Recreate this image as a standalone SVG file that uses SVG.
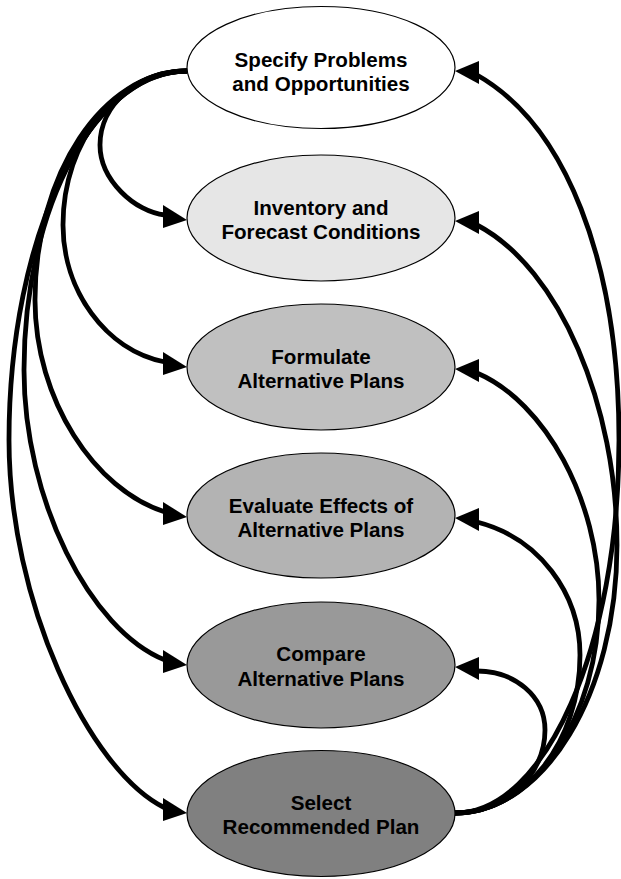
<svg xmlns="http://www.w3.org/2000/svg" width="621" height="879" viewBox="0 0 621 879">
<style>
.conn path{fill:none;stroke:#000;stroke-width:4.8}
.l{marker-end:url(#arrL)}
.r{marker-end:url(#arrR)}
.node ellipse{stroke:#000;stroke-width:1.2}
.node text{font-family:"Liberation Sans",Arial,sans-serif;font-weight:bold;font-size:20.6px;text-anchor:middle;fill:#000}
</style>
<defs>
<marker id="arrL" markerUnits="userSpaceOnUse" orient="0" refX="0" refY="0" markerWidth="30" markerHeight="30" overflow="visible">
<path d="M-2,-10 L22,5 L-2,13 Z" fill="#000"/>
</marker>
<marker id="arrR" markerUnits="userSpaceOnUse" orient="0" refX="0" refY="0" markerWidth="30" markerHeight="30" overflow="visible">
<path d="M2,-14 L-22,-4 L2,9 Z" fill="#000"/>
</marker>
</defs>
<rect width="621" height="879" fill="#fff"/>
<g id="connectors" class="conn">
<path class="l" d="M187,71 C139,71 100,104 100,145 C100,180 135,212 165,215"/>
<path class="l" d="M187,71 C118.5,71 63,140 63,225 C63,290 105,350 165,362"/>
<path class="l" d="M187,71 C103,71 35,173.5 35,300 C35,400 95,490 165,512"/>
<path class="l" d="M187,71 C97.5,71 24,205 24,370 C24,500 90,630 165,660"/>
<path class="l" d="M187,71 C88,71 9,236 9,440 C9,600 88,770 165,808"/>
<path class="r" d="M455,813 C545.6,813 619,646 619,440 C619,260 565,125 477,75"/>
<path class="r" d="M455,813 C544.5,813 617,693 617,545 C617,406 560,268.5 477,225"/>
<path class="r" d="M455,813 C534.5,813 599,717.6 599,600 C599,500.7 545,402 477,373"/>
<path class="r" d="M455,813 C524,813 580,742.3 580,655 C580,593 539,538 477,522"/>
<path class="r" d="M455,813 C504.7,813 545,775.8 545,730 C545,696 514.6,671 477,671"/>
</g>
<g id="node-specify" class="node">
<ellipse cx="321" cy="67.5" rx="134" ry="61" fill="#ffffff"/>
<text x="321" y="67">Specify Problems</text>
<text x="321" y="90.5">and Opportunities</text>
</g>
<g id="node-inventory" class="node">
<ellipse cx="321" cy="218" rx="134" ry="63" fill="#e6e6e6"/>
<text x="321" y="214.5">Inventory and</text>
<text x="321" y="239">Forecast Conditions</text>
</g>
<g id="node-formulate" class="node">
<ellipse cx="321" cy="367" rx="134" ry="63" fill="#c0c0c0"/>
<text x="321" y="363.5">Formulate</text>
<text x="321" y="388">Alternative Plans</text>
</g>
<g id="node-evaluate" class="node">
<ellipse cx="321" cy="515.5" rx="134" ry="62.5" fill="#b3b3b3"/>
<text x="321" y="512.5">Evaluate Effects of</text>
<text x="321" y="537">Alternative Plans</text>
</g>
<g id="node-compare" class="node">
<ellipse cx="321" cy="665" rx="134" ry="63" fill="#999999"/>
<text x="321" y="661">Compare</text>
<text x="321" y="686">Alternative Plans</text>
</g>
<g id="node-select" class="node">
<ellipse cx="321" cy="813.5" rx="134" ry="63" fill="#808080"/>
<text x="321" y="809.5">Select</text>
<text x="321" y="834">Recommended Plan</text>
</g>
</svg>
